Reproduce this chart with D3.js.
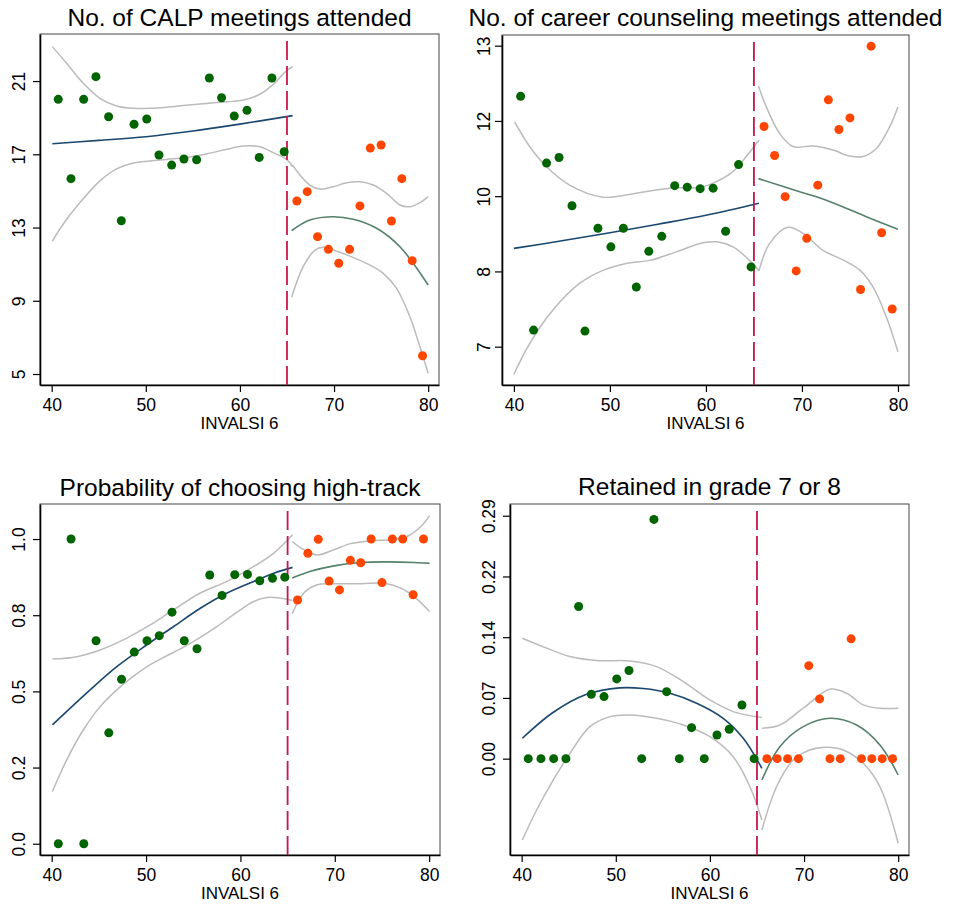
<!DOCTYPE html>
<html><head><meta charset="utf-8">
<script src="https://cdn.jsdelivr.net/npm/d3@7"></script>
<style>
body{margin:0;background:#fff;}
text{font-family:"Liberation Sans",Arial,Helvetica,sans-serif;fill:#000;}
</style></head>
<body><svg id="c" width="954" height="905"></svg>
<script>
// ---------- DATA ----------
const xTicks = [40, 50, 60, 70, 80];
const cutoff = 65;
const titles = ["No. of CALP meetings attended", "No. of career counseling meetings attended",
                "Probability of choosing high-track", "Retained in grade 7 or 8"];
const xLabel = "INVALSI 6";

// bin centres (below / above cutoff)
const greenX = [40.7, 42.05, 43.4, 44.7, 46.05, 47.4, 48.75, 50.1, 51.4, 52.75, 54.05, 55.4, 56.75, 58.05, 59.4, 60.75, 62.05, 63.4, 64.7];
const orangeX = [66.05, 67.15, 68.25, 69.4, 70.5, 71.65, 72.75, 73.85, 75.0, 76.1, 77.2, 78.3, 79.4];

// Panel 1: CALP meetings
const calpTicks = [5, 9, 13, 17, 21];
const calpTickLabels = ["5", "9", "13", "17", "21"];
const calpGreen = [20.0, 15.67, 20.0, 21.24, 19.05, 13.37, 18.64, 18.93, 16.96, 16.41, 16.74, 16.7, 21.17, 20.09, 19.09, 19.4, 16.83, 21.17, 17.14];
const calpOrange = [14.45, 14.96, 12.5, 11.81, 11.05, 11.81, 14.18, 17.34, 17.51, 13.36, 15.67, 11.19, 6.0];
const calpFitL = [[40.07,17.58],[45,17.76],[50,17.96],[55,18.27],[60,18.65],[65.6,19.11]];
const calpHiL = [[40.07,22.88],[41.59,21.97],[43.36,20.88],[45.13,20.06],[46.9,19.64],[48.67,19.51],[50.44,19.51],[52.21,19.57],[54.34,19.68],[56.46,19.78],[58.59,19.87],[60.35,19.96],[62.12,20.28],[63.54,20.82],[64.96,21.57],[65.6,21.78]];
const calpLoL = [[40.07,12.26],[41.59,13.45],[43.4,14.6],[45.13,15.55],[46.9,16.2],[48.67,16.52],[50.44,16.63],[52.21,16.72],[54.34,16.83],[56.46,17.02],[58.59,17.27],[60.35,17.45],[62.12,17.41],[63.54,17.09],[64.96,16.72],[65.6,16.32]];
const calpFitR = [[65.49,12.83],[67.43,13.41],[69.91,13.59],[72.04,13.45],[74.52,12.96],[77.0,11.95],[80.0,9.86]];
const calpHiR = [[65.6,16.41],[66.37,15.87],[67.43,15.32],[68.5,15.1],[69.91,15.23],[71.33,15.45],[72.75,15.5],[74.16,15.32],[75.58,14.87],[77.0,14.23],[78.06,14.14],[79.12,14.36],[80.0,14.68]];
const calpLoR = [[65.49,9.19],[66.72,10.86],[67.97,11.77],[68.85,11.92],[69.91,11.77],[71.68,11.44],[73.81,10.95],[75.22,10.5],[76.64,9.68],[78.06,8.13],[79.12,6.49],[80.0,5.04]];

// Panel 2: career counseling meetings
const careerTicks = [7, 8.5, 10, 11.5, 13];
const careerTickLabels = ["7", "8", "10", "12", "13"];
const careerGreen = [11.99, 7.33, 10.66, 10.77, 9.81, 7.31, 9.36, 8.99, 9.36, 8.19, 8.9, 9.2, 10.21, 10.18, 10.15, 10.16, 9.3, 10.63, 8.59];
const careerOrange = [11.39, 10.81, 9.99, 8.51, 9.16, 10.22, 11.92, 11.33, 11.56, 8.14, 12.99, 9.27, 7.75];
const careerFitL = [[40,8.96],[45,9.11],[50,9.27],[55,9.44],[60,9.62],[65.52,9.86]];
const careerHiL = [[40.07,11.48],[41.64,10.99],[43.38,10.59],[45.8,10.22],[49.27,9.98],[52.75,10.06],[56.22,10.16],[59.5,10.18],[61.08,10.29],[62.81,10.49],[64.2,10.79],[65.52,11.12]];
const careerLoL = [[40,6.45],[41.64,7.06],[44.06,7.73],[46.84,8.26],[49.27,8.52],[51.7,8.66],[54.13,8.72],[56.9,8.89],[59.7,9.07],[61.08,9.09],[62.81,8.99],[64.55,8.72],[65.52,8.51]];
const careerFitR = [[65.46,10.35],[69.76,10.09],[72.54,9.92],[76.71,9.59],[80,9.34]];
const careerHiR = [[65.46,12.2],[66.29,11.78],[67.68,11.25],[69.06,10.99],[71.15,11.0],[73.23,10.92],[74.97,10.8],[76.35,10.79],[77.75,10.95],[79.13,11.38],[80,11.78]];
const careerLoR = [[65.52,8.51],[66.64,9.06],[68.54,9.38],[70.1,9.26],[72.19,8.92],[74.27,8.73],[76.0,8.53],[77.4,8.19],[78.79,7.59],[80,6.9]];

// Panel 3: probability of choosing high-track
const trackTicks = [0, 0.25, 0.5, 0.75, 1];
const trackTickLabels = ["0.0", "0.2", "0.5", "0.8", "1.0"];
const trackGreen = [0, 1.0, 0, 0.666, 0.364, 0.54, 0.629, 0.666, 0.683, 0.76, 0.666, 0.64, 0.882, 0.815, 0.883, 0.884, 0.863, 0.871, 0.875];
const trackOrange = [0.80, 0.953, 0.999, 0.862, 0.833, 0.93, 0.922, 1.0, 0.857, 1.0, 1.0, 0.817, 1.0];
const trackFitL = [[40.07,0.39],[44.07,0.505],[46.9,0.581],[50.09,0.653],[52.92,0.713],[55.75,0.773],[58.59,0.823],[61.41,0.861],[63.54,0.888],[65.52,0.907]];
const trackHiL = [[40.07,0.606],[42.66,0.614],[45.13,0.636],[47.96,0.675],[50.44,0.718],[52.92,0.768],[55.75,0.823],[58.59,0.861],[61.41,0.91],[63.54,0.954],[65.52,1.014]];
const trackLoL = [[40.07,0.171],[41.59,0.275],[43.36,0.374],[45.13,0.45],[46.9,0.505],[48.67,0.55],[50.44,0.588],[52.2,0.617],[53.98,0.645],[55.75,0.677],[57.53,0.713],[59.5,0.757],[61.41,0.795],[62.83,0.808],[64.25,0.806],[65.52,0.798]];
const trackFitR = [[65.49,0.872],[67.43,0.894],[69.91,0.912],[72.75,0.923],[75.58,0.925],[78.41,0.923],[80.04,0.92]];
const trackHiR = [[65.49,0.992],[66.72,0.965],[68.15,0.948],[69.91,0.965],[71.68,0.985],[73.81,0.994],[75.93,0.998],[77.71,1.009],[79.12,1.041],[80.04,1.077]];
const trackLoR = [[65.49,0.755],[66.72,0.823],[68.15,0.85],[69.91,0.853],[72.75,0.853],[75.22,0.855],[77.0,0.839],[78.41,0.811],[80.04,0.762]];

// Panel 4: retained in grade 7 or 8
const retTicks = [0, 0.0725, 0.145, 0.2175, 0.29];
const retTickLabels = ["0.00", "0.07", "0.14", "0.22", "0.29"];
const retGreen = [0, 0, 0, 0, 0.1816, 0.0769, 0.0741, 0.0952, 0.1052, 0, 0.2856, 0.080, 0, 0.037, 0, 0.0283, 0.0351, 0.0641, 0];
const retOrange = [0, 0, 0, 0, 0.111, 0.0713, 0, 0, 0.143, 0, 0, 0, 0];
const retFitL = [[40.07,0.0244],[43.36,0.0554],[46.9,0.0769],[50.44,0.0845],[52.92,0.0837],[55.75,0.0781],[58.59,0.0662],[61.41,0.0482],[63.54,0.0244],[65.52,-0.0115]];
const retHiL = [[40.07,0.1438],[42.66,0.1319],[45.13,0.1219],[47.96,0.1171],[51.5,0.1167],[54.34,0.1099],[57.16,0.092],[60.0,0.0701],[62.47,0.0562],[65.52,0.049]];
const retLoL = [[40.07,-0.0971],[41.59,-0.0613],[43.36,-0.0254],[45.13,0.0064],[47.25,0.0382],[49.38,0.0502],[51.5,0.0522],[54.34,0.0482],[57.16,0.0402],[60.0,0.0263],[62.47,0.0024],[64.25,-0.0335],[65.52,-0.0732]];
const retFitR = [[65.52,-0.0255],[67.43,0.0143],[69.91,0.0382],[72.75,0.0482],[75.58,0.0402],[78.06,0.0164],[80.0,-0.0195]];
const retHiR = [[65.52,0.0363],[67.43,0.0402],[69.91,0.0602],[72.75,0.0829],[74.52,0.0781],[76.29,0.0642],[78.06,0.0602],[80.0,0.0602]];
const retLoR = [[65.52,-0.0852],[67.08,-0.0335],[68.85,-0.0016],[70.62,0.0104],[72.39,0.0136],[74.16,0.0104],[76.29,-0.0055],[78.06,-0.0335],[80.0,-0.101]];

// ---------- LAYOUT ----------
const panels = [
  {title: titles[0], frame: [40, 439, 34, 385], yDom: [4.4, 23.57], ticks: calpTicks, labels: calpTickLabels, lab: 15, tb: 26,
   green: calpGreen, orange: calpOrange, fitL: calpFitL, hiL: calpHiL, loL: calpLoL, fitR: calpFitR, hiR: calpHiR, loR: calpLoR},
  {title: titles[1], frame: [502, 909, 35, 385], yDom: [6.236, 13.213], ticks: careerTicks, labels: careerTickLabels, lab: 12, tb: 26,
   green: careerGreen, orange: careerOrange, fitL: careerFitL, hiL: careerHiL, loL: careerLoL, fitR: careerFitR, hiR: careerHiR, loR: careerLoR},
  {title: titles[2], frame: [40, 440, 504, 855], yDom: [-0.037, 1.115], ticks: trackTicks, labels: trackTickLabels, lab: 15, tb: 496,
   green: trackGreen, orange: trackOrange, fitL: trackFitL, hiL: trackHiL, loL: trackLoL, fitR: trackFitR, hiR: trackHiR, loR: trackLoR},
  {title: titles[3], frame: [510, 909, 504, 855], yDom: [-0.115, 0.304], ticks: retTicks, labels: retTickLabels, lab: 15, tb: 495,
   green: retGreen, orange: retOrange, fitL: retFitL, hiL: retHiL, loL: retLoL, fitR: retFitR, hiR: retHiR, loR: retLoR}
];
const xDom = [38.76, 81.15];
const svg = d3.select("#c");

panels.forEach(p => {
  const [x0, x1, y0, y1] = p.frame;
  const x = d3.scaleLinear().domain(xDom).range([x0, x1]);
  const y = d3.scaleLinear().domain(p.yDom).range([y1, y0]);
  const g = svg.append("g");

  // frame
  g.append("rect").attr("x", x0).attr("y", y0).attr("width", x1 - x0).attr("height", y1 - y0)
    .attr("fill", "none").attr("stroke", "#444").attr("stroke-width", 1);

  // axes
  const xa = g.append("g").attr("transform", `translate(0,${y1})`)
    .call(d3.axisBottom(x).tickValues(xTicks).tickSize(7).tickPadding(4).tickSizeOuter(0));
  xa.select(".domain").attr("stroke", "#000").attr("stroke-width", 1.6);
  xa.selectAll(".tick line").attr("stroke", "#000").attr("stroke-width", 1.2);
  xa.selectAll(".tick text").attr("font-size", 17.5).attr("font-family", "Liberation Sans, Arial, sans-serif")
    .attr("dy", null).attr("y", 25.5).attr("fill", "#000");

  const ya = g.append("g").attr("transform", `translate(${x0},0)`)
    .call(d3.axisLeft(y).tickValues(p.ticks).tickFormat((d, i) => p.labels[i]).tickSize(7).tickSizeOuter(0));
  ya.select(".domain").attr("stroke", "#000").attr("stroke-width", 1.6);
  ya.selectAll(".tick line").attr("stroke", "#000").attr("stroke-width", 1.2);
  ya.selectAll(".tick text").attr("font-size", 17.5).attr("font-family", "Liberation Sans, Arial, sans-serif")
    .attr("text-anchor", "middle").attr("transform", "rotate(-90)")
    .attr("x", 0).attr("y", -p.lab).attr("dy", null).attr("fill", "#000");

  // titles
  g.append("text").attr("x", (x0 + x1) / 2).attr("y", p.tb).attr("text-anchor", "middle")
    .attr("font-size", 24.5).text(p.title);
  g.append("text").attr("x", (x0 + x1) / 2).attr("y", y1 + 44).attr("text-anchor", "middle")
    .attr("font-size", 17).text(xLabel);

  const line = d3.line().x(d => x(d[0])).y(d => y(d[1])).curve(d3.curveCatmullRom.alpha(0.5));
  const drawLine = (data, color, w) => g.append("path").datum(data).attr("d", line)
    .attr("fill", "none").attr("stroke", color).attr("stroke-width", w);

  // CI lines
  [p.hiL, p.loL, p.hiR, p.loR].forEach(d => drawLine(d, "#bbbbbb", 1.5));
  // fit lines
  drawLine(p.fitL, "#1a476f", 1.6);
  drawLine(p.fitR, "#55806c", 1.6);

  // cutoff
  g.append("line").attr("x1", x(cutoff)).attr("x2", x(cutoff)).attr("y1", y0 + 7).attr("y2", y1)
    .attr("stroke", "#c8164b").attr("stroke-width", 1.8).attr("stroke-dasharray", "19,6");

  // dots
  g.selectAll(".gd").data(p.green).enter().append("circle")
    .attr("cx", (d, i) => x(greenX[i])).attr("cy", d => y(d)).attr("r", 4.5).attr("fill", "#006400");
  g.selectAll(".od").data(p.orange).enter().append("circle")
    .attr("cx", (d, i) => x(orangeX[i])).attr("cy", d => y(d)).attr("r", 4.5).attr("fill", "#ff4500");
});
</script>
</body></html>
